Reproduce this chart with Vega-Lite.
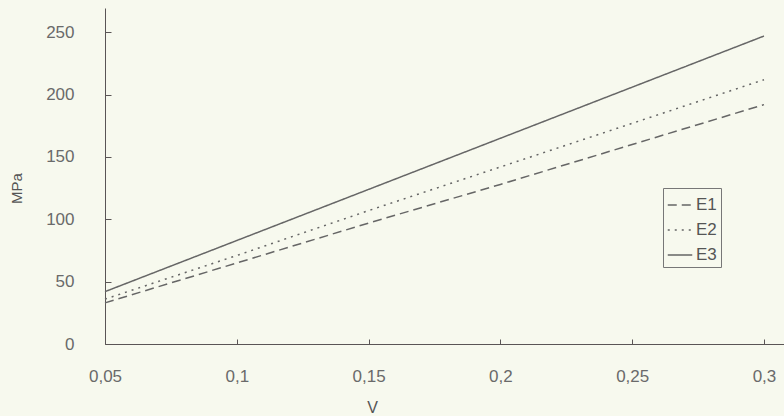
{
  "$schema": "https://vega.github.io/schema/vega-lite/v6.json",
  "width": 679,
  "height": 336,
  "autosize": {"type": "none"},
  "padding": {"left": 105, "top": 8, "right": 0, "bottom": 72},
  "background": "#f7f9ee",
  "config": {
    "view": {"stroke": null},
    "font": "Liberation Sans",
    "axis": {"grid": false, "domainColor": "#5a5555", "tickColor": "#5a5555", "labelColor": "#6a6a6a", "titleColor": "#555555", "labelFont": "Liberation Sans", "titleFont": "Liberation Sans"}
  },
  "data": {
    "values": [
      {"v": 0.05, "MPa": 33, "serie": "E1"},
      {"v": 0.1, "MPa": 65, "serie": "E1"},
      {"v": 0.15, "MPa": 97, "serie": "E1"},
      {"v": 0.2, "MPa": 128, "serie": "E1"},
      {"v": 0.25, "MPa": 160, "serie": "E1"},
      {"v": 0.3, "MPa": 192, "serie": "E1"},
      {"v": 0.05, "MPa": 36, "serie": "E2"},
      {"v": 0.1, "MPa": 71, "serie": "E2"},
      {"v": 0.15, "MPa": 107, "serie": "E2"},
      {"v": 0.2, "MPa": 142, "serie": "E2"},
      {"v": 0.25, "MPa": 177, "serie": "E2"},
      {"v": 0.3, "MPa": 212, "serie": "E2"},
      {"v": 0.05, "MPa": 42, "serie": "E3"},
      {"v": 0.1, "MPa": 83, "serie": "E3"},
      {"v": 0.15, "MPa": 124, "serie": "E3"},
      {"v": 0.2, "MPa": 165, "serie": "E3"},
      {"v": 0.25, "MPa": 206, "serie": "E3"},
      {"v": 0.3, "MPa": 247, "serie": "E3"}
    ]
  },
  "mark": {"type": "line", "color": "#666666", "strokeWidth": 1.5},
  "encoding": {
    "x": {
      "field": "v", "type": "quantitative",
      "scale": {"domain": [0.05, 0.3076], "nice": false, "zero": false},
      "axis": {
        "values": [0.05, 0.1, 0.15, 0.2, 0.25, 0.3],
        "labelExpr": "replace(format(datum.value, '.2~f'), '.', ',')",
        "tickSize": -5, "labelPadding": 29, "labelFontSize": 17, "labelFlush": false,
        "title": "V", "titleFontSize": 16, "titleFontWeight": "normal",
        "titleX": 267, "titleY": 63, "titleBaseline": "middle", "titleAlign": "center"
      }
    },
    "y": {
      "field": "MPa", "type": "quantitative",
      "scale": {"domain": [0, 269.5], "nice": false},
      "axis": {
        "values": [0, 50, 100, 150, 200, 250],
        "tickSize": -6, "labelPadding": 37, "labelFontSize": 17,
        "title": "MPa", "titleFontSize": 15, "titleFontWeight": "normal",
        "titleX": -89, "titleY": 180, "titleAngle": -90, "titleBaseline": "middle", "titleAlign": "center"
      }
    },
    "strokeDash": {
      "field": "serie", "type": "nominal",
      "scale": {"domain": ["E1", "E2", "E3"], "range": [[9, 5], [2, 5], [1, 0]]},
      "legend": {
        "title": null, "orient": "none", "legendX": 558, "legendY": 180,
        "strokeColor": "#777777", "padding": 4, "symbolType": "stroke",
        "symbolSize": 600, "symbolStrokeColor": "#666666", "symbolStrokeWidth": 1.5,
        "labelFontSize": 17, "labelColor": "#555555", "rowPadding": 4, "labelOffset": 3
      }
    }
  }
}
